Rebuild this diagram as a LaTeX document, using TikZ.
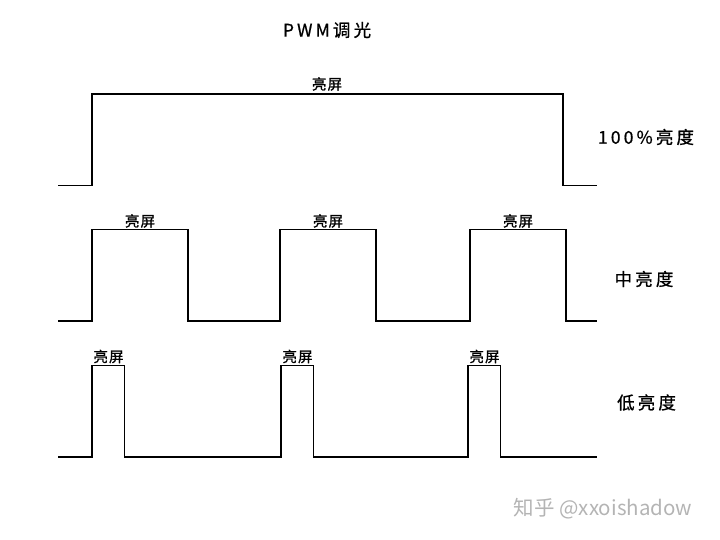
\documentclass[tikz,border=0pt]{standalone}
\usepackage{fontspec}
\setmainfont{Noto Sans CJK SC}
\newfontfamily\pwmwide[LetterSpace=18,FakeBold=0.8]{Noto Sans CJK SC}
\newfontfamily\pwmnarrow[LetterSpace=8,FakeBold=0.8]{Noto Sans CJK SC}
\usepackage{xcolor}
\definecolor{pwmmark}{HTML}{B4B4B4}
\usetikzlibrary{positioning}
\tikzset{
  pwmwave/.style={line width=1.7pt,line join=miter},
  pwmtag/.style={font=\pwmnarrow\fontsize{14.5}{15}\selectfont,inner sep=0pt},
  pwmlevel/.style={font=\pwmwide\fontsize{17.5}{18}\selectfont,inner sep=0pt},
  pwmtitle/.style={font=\pwmwide\fontsize{17.5}{18}\selectfont,inner sep=0pt},
  pwmstamp/.style={font=\fontsize{20.5}{21}\selectfont,text=pwmmark,inner sep=0pt},
}

\begin{document}
\begin{tikzpicture}[x=1pt,y=-1pt]
\useasboundingbox (0,0) rectangle (720,540);
\node[pwmtitle] (title) at (327,30) {PWM调光};
% 100%
\draw[pwmwave] (58,185.5) -- (92,185.5) -- (92,94) -- (563,94) -- (563,185.5) -- (597,185.5);
\node[pwmtag] (fullon) at (327,84) {亮屏};
\node[pwmlevel] (fulllv) at (646,137) {100\%亮度};
% middle
\draw[pwmwave] (58,321) foreach \x in {92,280,470} {-- (\x,321) -- (\x,229.5) -- (\x+96,229.5) -- (\x+96,321)} -- (597,321);
\foreach \x [count=\i] in {92,280,470}
  \node[pwmtag] (midon\i) at (\x+48,221) {亮屏};
\node[pwmlevel] (midlv) at (644,279) {中亮度};
% low
\draw[pwmwave] (58,457) foreach \x in {92,281,468} {-- (\x,457) -- (\x,365.5) -- (\x+32.5,365.5) -- (\x+32.5,457)} -- (597,457);
\foreach \x [count=\i] in {92,281,468}
  \node[pwmtag] (lowon\i) at (\x+16.5,356.5) {亮屏};
\node[pwmlevel] (lowlv) at (646.5,402.5) {低亮度};
\node[pwmstamp] (stamp) at (603,508.5) {知乎 @xxoishadow};
\end{tikzpicture}
\end{document}
